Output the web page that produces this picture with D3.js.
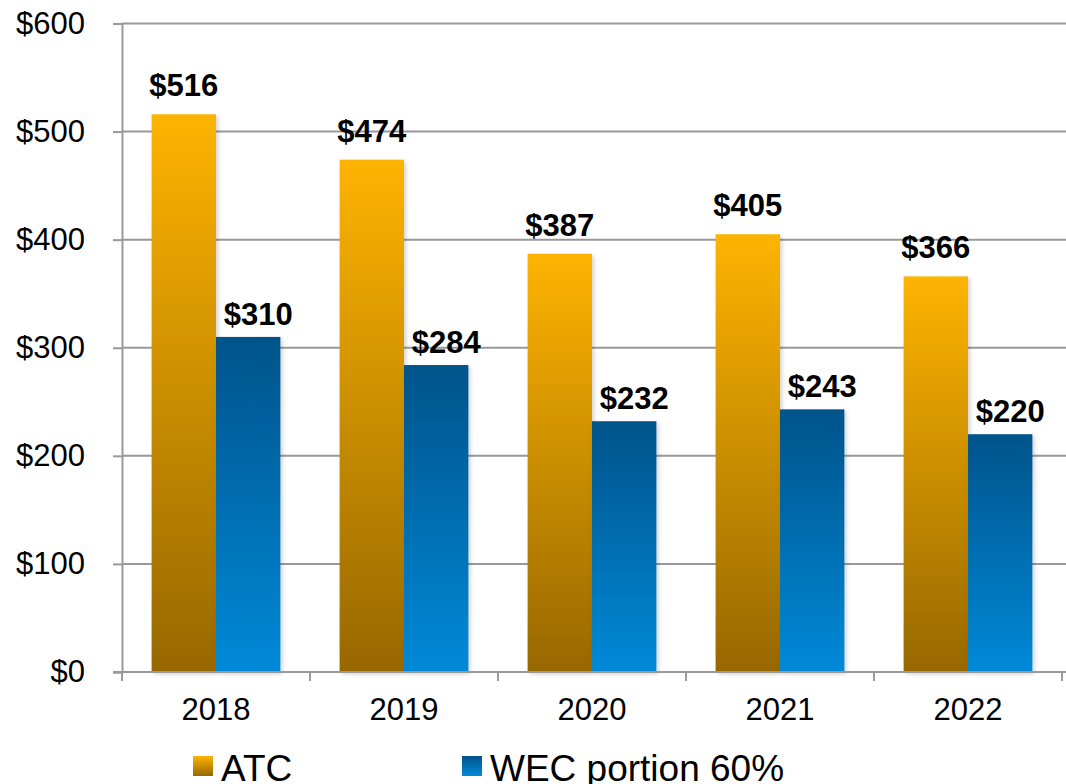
<!DOCTYPE html>
<html>
<head>
    <script src="https://d3js.org/d3.v7.min.js"></script>
    <style>
        body { margin: 0; background: #fff; font-family: "Liberation Sans", Arial, sans-serif; }
    </style>
</head>
<body>
    <svg id="chart" width="1066" height="784"></svg>
    <script>
        // data
        const years = ["2018", "2019", "2020", "2021", "2022"];
        const atc = [516, 474, 387, 405, 366];
        const wec = [310, 284, 232, 243, 220];
        const seriesNames = ["ATC", "WEC portion 60%"];
        const yTicks = [0, 100, 200, 300, 400, 500, 600];

        const svg = d3.select("#chart");
        const plotLeft = 122, plotRight = 1062, plotTop = 23.5, plotBottom = 672;

        const x0 = d3.scaleBand().domain(years).range([plotLeft, plotRight]);
        const x1 = d3.scaleBand().domain(["atc", "wec"]).range([0, x0.bandwidth()]).paddingOuter(0.46);
        const y = d3.scaleLinear().domain([0, 600]).range([plotBottom, plotTop]);

        // gradients + shadow
        const defs = svg.append("defs");
        const g1 = defs.append("linearGradient").attr("id", "gATC").attr("x1", 0).attr("y1", 0).attr("x2", 0).attr("y2", 1);
        g1.append("stop").attr("offset", "0%").attr("stop-color", "#fdb300");
        g1.append("stop").attr("offset", "100%").attr("stop-color", "#976800");
        const g2 = defs.append("linearGradient").attr("id", "gWEC").attr("x1", 0).attr("y1", 0).attr("x2", 0).attr("y2", 1);
        g2.append("stop").attr("offset", "0%").attr("stop-color", "#03538a");
        g2.append("stop").attr("offset", "100%").attr("stop-color", "#0089d8");
        defs.append("filter").attr("id", "shadow").attr("x", "-20%").attr("y", "-20%").attr("width", "140%").attr("height", "140%")
            .append("feDropShadow").attr("dx", 2).attr("dy", 2).attr("stdDeviation", 2)
            .attr("flood-color", "#000").attr("flood-opacity", 0.18);

        // gridlines
        svg.append("g")
            .selectAll("line").data(yTicks.filter(d => d > 0)).enter().append("line")
            .attr("x1", plotLeft).attr("x2", 1066)
            .attr("y1", d => y(d)).attr("y2", d => y(d))
            .attr("stroke", "#999").attr("stroke-width", 2);

        // y axis
        const yAxis = svg.append("g")
            .attr("transform", `translate(${plotLeft},0)`)
            .call(d3.axisLeft(y).tickValues(yTicks).tickSize(9).tickPadding(28).tickFormat(d => "$" + d));
        yAxis.select(".domain").attr("stroke", "#999").attr("stroke-width", 2);
        yAxis.selectAll(".tick line").attr("stroke", "#999").attr("stroke-width", 2);
        yAxis.selectAll("text").attr("font-size", "31px").attr("font-family", "Liberation Sans, Arial, sans-serif").attr("fill", "#000");

        // bars
        const groups = svg.append("g")
            .selectAll("g").data(years).enter().append("g")
            .attr("transform", d => `translate(${x0(d)},0)`);

        groups.append("rect")
            .attr("x", x1("atc")).attr("width", x1.bandwidth())
            .attr("y", (d, i) => y(atc[i])).attr("height", (d, i) => plotBottom - y(atc[i]))
            .attr("fill", "url(#gATC)").attr("filter", "url(#shadow)");
        groups.append("rect")
            .attr("x", x1("wec")).attr("width", x1.bandwidth())
            .attr("y", (d, i) => y(wec[i])).attr("height", (d, i) => plotBottom - y(wec[i]))
            .attr("fill", "url(#gWEC)").attr("filter", "url(#shadow)");

        // value labels
        groups.append("text")
            .attr("x", x1("atc") + x1.bandwidth() / 2)
            .attr("y", (d, i) => y(atc[i]) - 18)
            .attr("text-anchor", "middle")
            .attr("font-size", "31px").attr("font-weight", "bold")
            .text((d, i) => "$" + atc[i]);
        groups.append("text")
            .attr("x", x1("wec") + x1.bandwidth() / 2 + 10)
            .attr("y", (d, i) => y(wec[i]) - 12)
            .attr("text-anchor", "middle")
            .attr("font-size", "31px").attr("font-weight", "bold")
            .text((d, i) => "$" + wec[i]);

        // x axis
        svg.append("line")
            .attr("x1", plotLeft - 9).attr("x2", 1066).attr("y1", plotBottom).attr("y2", plotBottom)
            .attr("stroke", "#999").attr("stroke-width", 2);
        svg.append("g")
            .selectAll("line").data(years.concat(["end"])).enter().append("line")
            .attr("x1", (d, i) => plotLeft + i * x0.step()).attr("x2", (d, i) => plotLeft + i * x0.step())
            .attr("y1", plotBottom).attr("y2", plotBottom + 9)
            .attr("stroke", "#999").attr("stroke-width", 2);
        svg.append("g")
            .selectAll("text").data(years).enter().append("text")
            .attr("x", d => x0(d) + x0.bandwidth() / 2)
            .attr("y", 720)
            .attr("text-anchor", "middle")
            .attr("font-size", "31px")
            .text(d => d);

        // legend
        const legendX = [193, 462];
        const legend = svg.append("g")
            .selectAll("g").data(seriesNames).enter().append("g")
            .attr("transform", (d, i) => `translate(${legendX[i]},756)`);
        legend.append("rect")
            .attr("width", 20).attr("height", 20)
            .attr("fill", (d, i) => i == 0 ? "url(#gATC)" : "url(#gWEC)");
        legend.append("text")
            .attr("x", 28).attr("y", 25)
            .attr("font-size", "37px")
            .text(d => d);
    </script>
</body>
</html>
